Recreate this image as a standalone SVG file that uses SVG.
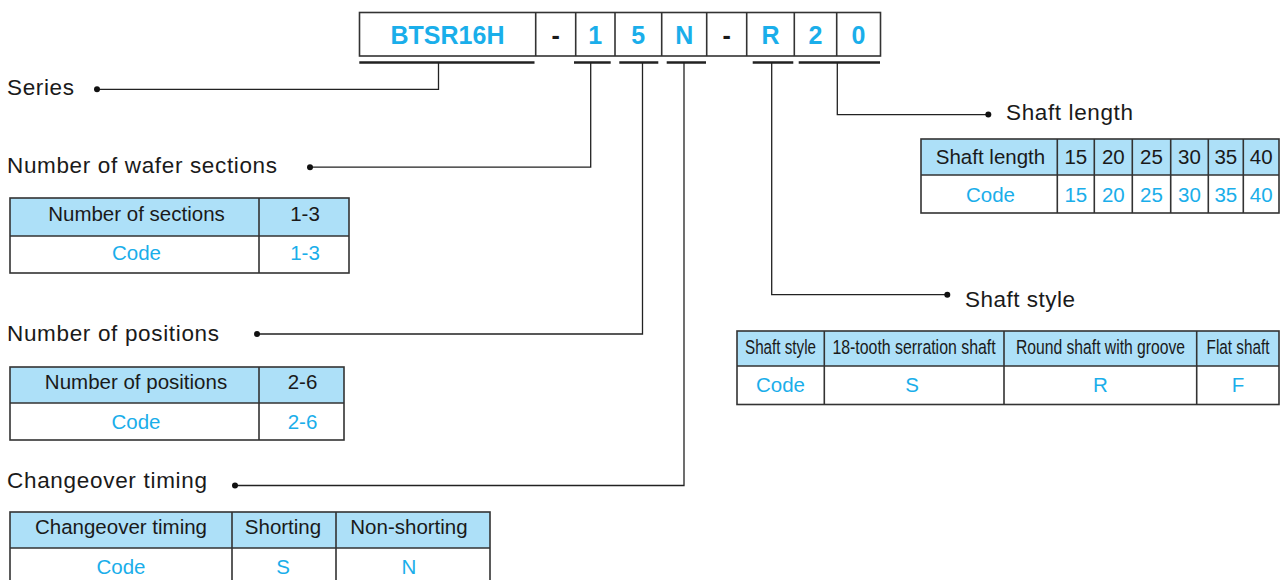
<svg xmlns="http://www.w3.org/2000/svg" width="1280" height="580" viewBox="0 0 1280 580">
<style>
.lbl{font-family:"Liberation Sans",Arial,sans-serif;font-size:22.5px;fill:#1a1a1a}
.th{font-family:"Liberation Sans",Arial,sans-serif;font-size:20.5px;fill:#1a1a1a;text-anchor:middle}
.td{font-family:"Liberation Sans",Arial,sans-serif;font-size:20.5px;fill:#1aaeea;text-anchor:middle}
.thn{font-family:"Liberation Sans",Arial,sans-serif;font-size:19.5px;fill:#1a1a1a;text-anchor:middle}
.code{font-family:"Liberation Sans",Arial,sans-serif;font-size:25px;font-weight:bold;fill:#1aaeea;text-anchor:middle}
.dash{fill:#1a1a1a}
.box{fill:#fff;stroke:#333;stroke-width:1.6}
.hdr{fill:#ade0f8}
.grid{stroke:#333;stroke-width:1.6;fill:none}
.ul{stroke:#222;stroke-width:2.6}
.conn{stroke:#222;stroke-width:1.3;fill:none}
.dot{fill:#111}
</style>

<g id="code-box">
  <rect class="box" x="359.5" y="12.5" width="521" height="43.5"/>
  <path class="grid" d="M535.7 12.5V56M575.7 12.5V56M615 12.5V56M661.7 12.5V56M706.7 12.5V56M746.7 12.5V56M794.3 12.5V56M836.7 12.5V56"/>
  <text class="code" x="447.5" y="44">BTSR16H</text>
  <text class="code dash" x="555.7" y="44">-</text>
  <text class="code" x="595.3" y="44">1</text>
  <text class="code" x="638.3" y="44">5</text>
  <text class="code" x="684.2" y="44">N</text>
  <text class="code dash" x="726.7" y="44">-</text>
  <text class="code" x="770.5" y="44">R</text>
  <text class="code" x="815.5" y="44">2</text>
  <text class="code" x="858.5" y="44">0</text>
  <path class="ul" d="M359.3 62.5H534.5M574 62.5H610.7M619.3 62.5H658.3M666.7 62.5H706M752.7 62.5H793.3M798.7 62.5H880"/>
</g>

<g id="connectors">
  <path class="conn" d="M97 89.3H438.5V62.5"/>
  <path class="conn" d="M310 167.2H590.7V62.5"/>
  <path class="conn" d="M257 334H642.5V62.5"/>
  <path class="conn" d="M235 485.5H684V62.5"/>
  <path class="conn" d="M771.7 62.5V294.7H947"/>
  <path class="conn" d="M837.3 62.5V114.7H988"/>
  <circle class="dot" cx="97" cy="89.3" r="3"/>
  <circle class="dot" cx="310" cy="167.2" r="3"/>
  <circle class="dot" cx="257" cy="334" r="3"/>
  <circle class="dot" cx="235" cy="485.5" r="3"/>
  <circle class="dot" cx="947.3" cy="294.7" r="3"/>
  <circle class="dot" cx="988.3" cy="114.5" r="3"/>
</g>

<g id="series">
  <text class="lbl" x="7" y="95" textLength="67" lengthAdjust="spacing">Series</text>
</g>

<g id="wafer-sections">
  <text class="lbl" x="7" y="173.3" textLength="270" lengthAdjust="spacing">Number of wafer sections</text>
  <rect class="hdr" x="10" y="198" width="339" height="38"/>
  <rect class="grid" x="10" y="198" width="339" height="75"/>
  <path class="grid" d="M10 236H349M259 198V273"/>
  <text class="th" x="136.5" y="221">Number of sections</text>
  <text class="th" x="305" y="221">1-3</text>
  <text class="td" x="136.5" y="260">Code</text>
  <text class="td" x="305" y="260">1-3</text>
</g>

<g id="positions">
  <text class="lbl" x="7" y="341" textLength="212" lengthAdjust="spacing">Number of positions</text>
  <rect class="hdr" x="10" y="367" width="334" height="36"/>
  <rect class="grid" x="10" y="367" width="334" height="73"/>
  <path class="grid" d="M10 403H344M259 367V440"/>
  <text class="th" x="136" y="388.5">Number of positions</text>
  <text class="th" x="302.5" y="388.5">2-6</text>
  <text class="td" x="136" y="428.5">Code</text>
  <text class="td" x="302.5" y="428.5">2-6</text>
</g>

<g id="changeover">
  <text class="lbl" x="7" y="487.5" textLength="200" lengthAdjust="spacing">Changeover timing</text>
  <rect class="hdr" x="10" y="512" width="480" height="36"/>
  <rect class="grid" x="10" y="512" width="480" height="80"/>
  <path class="grid" d="M10 548H490M232 512V592M336 512V592"/>
  <text class="th" x="121" y="534">Changeover timing</text>
  <text class="th" x="283" y="534">Shorting</text>
  <text class="th" x="409" y="534">Non-shorting</text>
  <text class="td" x="121" y="573.5">Code</text>
  <text class="td" x="283" y="573.5">S</text>
  <text class="td" x="409" y="573.5">N</text>
</g>

<g id="shaft-length">
  <text class="lbl" x="1006" y="119.5" textLength="127" lengthAdjust="spacing">Shaft length</text>
  <rect class="hdr" x="921" y="139" width="358" height="36"/>
  <rect class="grid" x="921" y="139" width="358" height="74"/>
  <path class="grid" d="M921 175H1279M1057.3 139V213M1094.3 139V213M1132.3 139V213M1170.7 139V213M1208.3 139V213M1243.3 139V213"/>
  <text class="th" x="990.5" y="163.5">Shaft length</text>
  <text class="th" x="1075.8" y="163.5">15</text>
  <text class="th" x="1113.3" y="163.5">20</text>
  <text class="th" x="1151.5" y="163.5">25</text>
  <text class="th" x="1189.5" y="163.5">30</text>
  <text class="th" x="1225.8" y="163.5">35</text>
  <text class="th" x="1261.2" y="163.5">40</text>
  <text class="td" x="990.5" y="202">Code</text>
  <text class="td" x="1075.8" y="202">15</text>
  <text class="td" x="1113.3" y="202">20</text>
  <text class="td" x="1151.5" y="202">25</text>
  <text class="td" x="1189.5" y="202">30</text>
  <text class="td" x="1225.8" y="202">35</text>
  <text class="td" x="1261.2" y="202">40</text>
</g>

<g id="shaft-style">
  <text class="lbl" x="965" y="307" textLength="110" lengthAdjust="spacing">Shaft style</text>
  <rect class="hdr" x="737" y="331" width="542" height="35"/>
  <rect class="grid" x="737" y="331" width="542" height="73.5"/>
  <path class="grid" d="M737 366H1279M824.3 331V404.5M1004 331V404.5M1196.7 331V404.5"/>
  <text class="thn" transform="translate(780.5 354) scale(0.78 1)">Shaft style</text>
  <text class="thn" transform="translate(914 354) scale(0.815 1)">18-tooth serration shaft</text>
  <text class="thn" transform="translate(1100.5 354) scale(0.805 1)">Round shaft with groove</text>
  <text class="thn" transform="translate(1238 354) scale(0.785 1)">Flat shaft</text>
  <text class="td" x="780.5" y="392">Code</text>
  <text class="td" x="912" y="392">S</text>
  <text class="td" x="1100.5" y="392">R</text>
  <text class="td" x="1238" y="392">F</text>
</g>
</svg>
